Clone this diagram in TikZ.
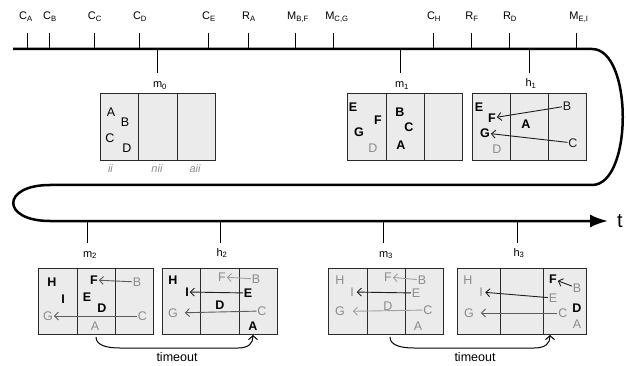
\documentclass[tikz,border=0pt]{standalone}
\usepackage{fontspec}
\setmainfont{Liberation Sans}
\usetikzlibrary{arrows.meta}
\definecolor{tgray}{HTML}{8C8C8C}
\definecolor{lgray}{HTML}{A0A0A0}
\definecolor{mgray}{HTML}{5C5C5C}
\definecolor{dk}{HTML}{1E1E1E}
\definecolor{boxfill}{HTML}{EBEBEB}
\definecolor{boxline}{HTML}{2A2A2A}
\newcommand{\lsz}{\fontsize{12.5}{14}\selectfont}
\newcommand{\tsz}{\fontsize{11}{13}\selectfont}
\begin{document}
\begin{tikzpicture}[x=1pt,y=-1pt,
  ltr/.style={inner sep=0.8pt, font=\lsz},
  bd/.style={ltr, font=\lsz\bfseries},
  gr/.style={ltr, text=tgray},
  cellbox/.style={draw=boxline, fill=boxfill, line width=1pt},
  tickline/.style={line width=0.9pt},
  tlab/.style={font=\tsz, anchor=base, inner sep=0pt},
  arr/.style={-{Straight Barb[length=4pt,width=8pt]}, line width=0.9pt},
  tmo/.style={-{Straight Barb[length=4pt,width=9pt]}, line width=1pt},
  clab/.style={font=\fontsize{11}{13}\selectfont\itshape, text=tgray, inner sep=0pt}
]
\useasboundingbox (0,0) rectangle (626,366);

% main time line
\coordinate (t0) at (13,49);
\coordinate (t1) at (592,49);
\coordinate (t2) at (592,185);
\coordinate (t3) at (50,185);
\coordinate (t4) at (50,221);
\coordinate (t5) at (608,221);
\draw[line width=2.5pt, -{Latex[length=18pt,width=13pt]}]
  (t0) -- (t1) .. controls (633,49) and (633,185) .. (t2) -- (t3)
  .. controls (1,185) and (1,221) .. (t4) -- (t5);
\node[font=\fontsize{20}{22}\selectfont, inner sep=0pt] (tlabel) at (620,221) {t};

% top event ticks
\foreach \x/\n in {27/a,49/b,94/c,139/d,208/e,248/f,295/g,333/h,433/i,471/j,509/k,576/l}{
  \coordinate (ev\n) at (\x,33);
  \coordinate (evb\n) at (\x,49);
  \draw[tickline] (ev\n) -- (evb\n);
}
\node[tlab] (lCA) at (26,20) {C\textsubscript{A}};
\node[tlab] (lCB) at (50,20) {C\textsubscript{B}};
\node[tlab] (lCC) at (95,20) {C\textsubscript{C}};
\node[tlab] (lCD) at (140,20) {C\textsubscript{D}};
\node[tlab] (lCE) at (209,20) {C\textsubscript{E}};
\node[tlab] (lRA) at (249,20) {R\textsubscript{A}};
\node[tlab] (lMBF) at (298,20) {M\textsubscript{B,F}};
\node[tlab] (lMCG) at (337,20) {M\textsubscript{C,G}};
\node[tlab] (lCH) at (434,20) {C\textsubscript{H}};
\node[tlab] (lRF) at (472,20) {R\textsubscript{F}};
\node[tlab] (lRD) at (510,20) {R\textsubscript{D}};
\node[tlab] (lMEI) at (579,20) {M\textsubscript{E,I}};

% snapshot ticks
\foreach \x/\n in {157.5/m0,400/m1,529/h1}{
  \coordinate (s\n) at (\x,49);
  \coordinate (e\n) at (\x,73);
  \draw[tickline] (s\n) -- (e\n);
}
\foreach \x/\n in {87/m2,220/h2,383/m3,517/h3}{
  \coordinate (s\n) at (\x,221);
  \coordinate (e\n) at (\x,243);
  \draw[tickline] (s\n) -- (e\n);
}
\node[tlab] (lm0) at (160,88) {m\textsubscript{0}};
\node[tlab] (lm1) at (402,88) {m\textsubscript{1}};
\node[tlab] (lh1) at (531,87) {h\textsubscript{1}};
\node[tlab] (lm2) at (90,257) {m\textsubscript{2}};
\node[tlab] (lh2) at (222,256) {h\textsubscript{2}};
\node[tlab] (lm3) at (386,257) {m\textsubscript{3}};
\node[tlab] (lh3) at (519,256) {h\textsubscript{3}};

% boxes (three cells each)
\foreach \a/\b/\c/\d in {100/138/177/215, 347/386/424/462, 472/510/548/586}{
  \draw[cellbox] (\a,94) rectangle (\b,161);
  \draw[cellbox] (\b,94) rectangle (\c,161);
  \draw[cellbox] (\c,94) rectangle (\d,161);
}
\foreach \a/\b/\c/\d in {38/77/115/153, 162/200/239/277, 328/367/405/443, 457/500/543/586}{
  \draw[cellbox] (\a,268) rectangle (\b,334);
  \draw[cellbox] (\b,268) rectangle (\c,334);
  \draw[cellbox] (\c,268) rectangle (\d,334);
}

% m0
\node[ltr] (m0A) at (111,112) {A};
\node[ltr] (m0B) at (125,122) {B};
\node[ltr] (m0C) at (110,138) {C};
\node[ltr] (m0D) at (127,148) {D};
\node[clab] (cii) at (110.5,169) {ii};
\node[clab] (cnii) at (157,169) {nii};
\node[clab] (caii) at (195,169) {aii};

% m1
\node[bd] (m1E) at (353,107) {E};
\node[bd] (m1F) at (378,120) {F};
\node[bd] (m1G) at (359,132) {G};
\node[gr] (m1D) at (373,148) {D};
\node[bd] (m1B) at (400,112) {B};
\node[bd] (m1C) at (409,127) {C};
\node[bd] (m1A) at (401,145) {A};

% h1
\node[bd] (h1E) at (479,107) {E};
\node[bd] (h1F) at (492,118) {F};
\node[bd] (h1G) at (485,133) {G};
\node[gr] (h1D) at (497,149) {D};
\node[bd] (h1A) at (526,124) {A};
\node[ltr, text=dk] (h1B) at (567,106) {B};
\node[ltr, text=dk] (h1C) at (573,143) {C};
\draw[arr, draw=dk] (h1B) -- (h1F);
\draw[arr, draw=dk] (h1C) -- (h1G);

% m2
\node[bd] (m2H) at (52,282) {H};
\node[bd] (m2I) at (63,299) {I};
\node[gr] (m2G) at (48,316) {G};
\node[bd] (m2F) at (94,280) {F};
\node[bd] (m2E) at (87,297) {E};
\node[bd] (m2D) at (102,308) {D};
\node[gr] (m2A) at (95,326) {A};
\node[gr] (m2B) at (137,282) {B};
\node[gr] (m2C) at (142.5,316) {C};
\draw[arr, draw=mgray] (m2B) -- (m2F);
\draw[arr, draw=mgray] (m2C) -- (m2G);

% h2
\node[bd] (h2H) at (173,280) {H};
\node[gr] (h2G) at (173,313) {G};
\node[gr] (h2F) at (222,277) {F};
\node[bd] (h2I) at (187,292) {I};
\node[bd] (h2D) at (220,305) {D};
\node[gr] (h2B) at (256,279) {B};
\node[bd] (h2E) at (248,293) {E};
\node[gr] (h2C) at (262,311) {C};
\node[bd] (h2A) at (253,326) {A};
\draw[arr, draw=lgray] (h2B) -- (h2F);
\draw[arr, draw=dk] (h2E) -- (h2I);
\draw[arr, draw=mgray, shorten >=6pt] (h2C) -- (h2G);

% m3
\node[gr] (m3H) at (340,280) {H};
\node[gr] (m3I) at (352,292) {I};
\node[gr] (m3G) at (340,311.5) {G};
\node[gr] (m3F) at (388,277) {F};
\node[gr] (m3D) at (388,306) {D};
\node[gr] (m3B) at (422,280) {B};
\node[gr] (m3E) at (416,293) {E};
\node[gr] (m3C) at (428,310) {C};
\node[gr] (m3A) at (418,326) {A};
\draw[arr, draw=lgray] (m3B) -- (m3F);
\draw[arr, draw=dk, shorten >=2pt] (m3E) -- (m3I);
\draw[arr, draw=lgray, shorten >=7pt] (m3C) -- (m3G);

% h3
\node[gr] (h3H) at (468,280) {H};
\node[gr] (h3I) at (481,292) {I};
\node[gr] (h3G) at (469,313) {G};
\node[bd] (h3F) at (553,279) {F};
\node[gr] (h3B) at (577,288) {B};
\node[gr] (h3E) at (553,298) {E};
\node[bd] (h3D) at (577,308) {D};
\node[gr] (h3C) at (563,313) {C};
\node[gr] (h3A) at (577,324) {A};
\draw[arr, draw=dk] (h3B) -- (h3F);
\draw[arr, draw=dk, shorten >=1.5pt] (h3E) -- (h3I);
\draw[arr, draw=mgray, shorten >=6pt] (h3C) -- (h3G);

% timeouts
\coordinate (to1s) at (96,337);
\coordinate (to1a) at (120,348);
\coordinate (to1b) at (238,348);
\coordinate (to1e) at (253,335);
\draw[tmo] (to1s) .. controls (96,345) and (106,348) .. (to1a) -- (to1b)
  .. controls (249,348) and (253,343) .. (to1e);
\node[font=\fontsize{12.5}{14}\selectfont, inner sep=0pt] (tmo1) at (177,357) {timeout};
\coordinate (to2s) at (390,337);
\coordinate (to2a) at (414,348);
\coordinate (to2b) at (534,348);
\coordinate (to2e) at (550,335);
\draw[tmo] (to2s) .. controls (390,345) and (400,348) .. (to2a) -- (to2b)
  .. controls (546,348) and (550,343) .. (to2e);
\node[font=\fontsize{12.5}{14}\selectfont, inner sep=0pt] (tmo2) at (475,357) {timeout};
\end{tikzpicture}
\end{document}
